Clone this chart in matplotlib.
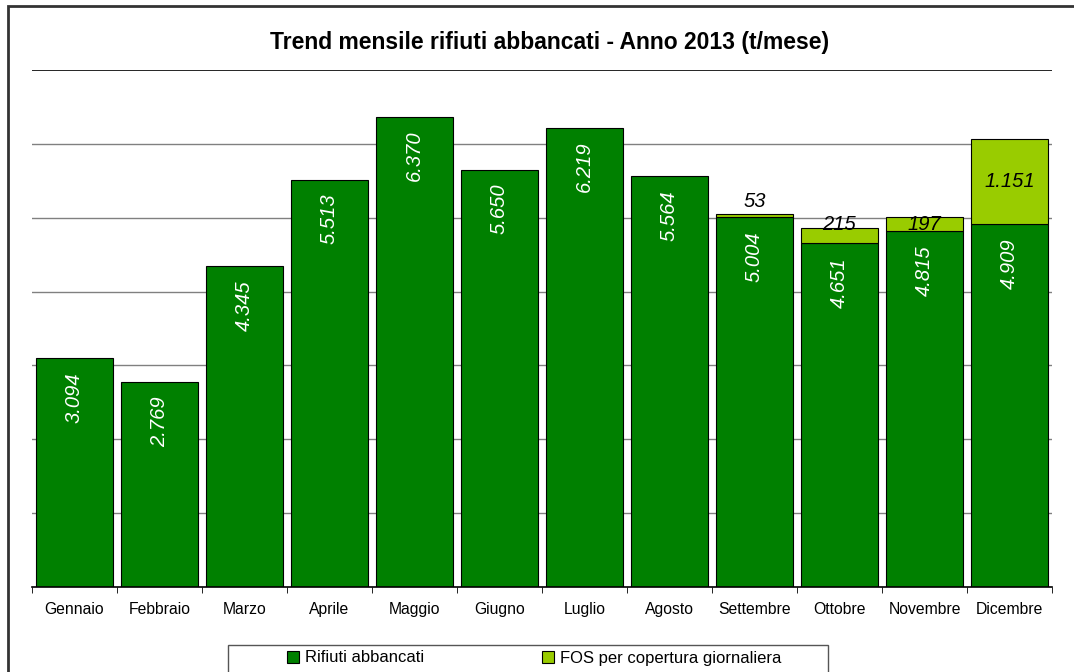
import matplotlib
matplotlib.use('Agg')
import matplotlib.pyplot as plt
from matplotlib.patches import Rectangle, Patch
import numpy as np

plt.rcParams['font.family'] = ['Liberation Sans', 'DejaVu Sans']

mesi = ['Gennaio', 'Febbraio', 'Marzo', 'Aprile', 'Maggio', 'Giugno',
        'Luglio', 'Agosto', 'Settembre', 'Ottobre', 'Novembre', 'Dicembre']
rifiuti = [3094, 2769, 4345, 5513, 6370, 5650, 6219, 5564, 5004, 4651, 4815, 4909]
fos = [0, 0, 0, 0, 0, 0, 0, 0, 53, 215, 197, 1151]
# nudge (in points) of the FOS labels
fos_nudge = [0, 0, 0, 0, 0, 0, 0, 0, 10, 8, 0, 0]

verde = '#008000'
lime = '#99CC00'

def fmt(v):
    return f'{v:,}'.replace(',', '.')

fig = plt.figure(figsize=(10.74, 6.72), dpi=100)
ax = fig.add_axes([32/1074, 1-587/672, 1020/1074, 517/672])

x = np.arange(len(mesi))
ax.bar(x, rifiuti, width=0.9, color=verde, edgecolor='black', linewidth=0.8, zorder=3)
b2 = ax.bar(x, fos, width=0.9, bottom=rifiuti, color=lime, edgecolor='black',
            linewidth=0.8, zorder=3)
# hide the empty FOS bars
for r, v in zip(b2, fos):
    if v == 0:
        r.set_visible(False)

for xi, v in zip(x, rifiuti):
    ax.annotate(fmt(v), (xi, v), xytext=(0, -10), textcoords='offset points',
                ha='center', va='top', rotation=90, color='white',
                fontsize=14.5, style='italic', zorder=4)

for xi, r, v, n in zip(x, rifiuti, fos, fos_nudge):
    if v == 0:
        continue
    ax.annotate(fmt(v), (xi, r + v/2), xytext=(0, n), textcoords='offset points',
                ha='center', va='center', color='black',
                fontsize=14.5, style='italic', zorder=4)

ax.set_xlim(-0.5, len(mesi) - 0.5)
ax.set_ylim(0, 7000)
ax.set_yticks(np.arange(1000, 7001, 1000))
ax.tick_params(axis='y', length=0, labelleft=False)
for yv in range(1000, 7000, 1000):
    ax.axhline(yv, color='#808080', linewidth=1, zorder=1)
ax.axhline(7000, color='black', linewidth=1.2, zorder=1)

ax.set_xticks(x)
ax.set_xticklabels(mesi, fontsize=11.3)
ax.tick_params(axis='x', which='major', length=0, pad=11)
ax.set_xticks(np.arange(-0.5, len(mesi)), minor=True)
ax.tick_params(axis='x', which='minor', length=4, direction='out', color='black')

for s in ['left', 'right', 'top']:
    ax.spines[s].set_visible(False)
ax.spines['bottom'].set_color('black')
ax.spines['bottom'].set_linewidth(1.2)
ax.spines['bottom'].set_zorder(5)

fig.suptitle('Trend mensile rifiuti abbancati - Anno 2013 (t/mese)',
             x=550/1074, y=1-42/672, fontsize=16.5, fontweight='bold', va='center')

handles = [Patch(facecolor=verde, edgecolor='black', linewidth=0.8, label='Rifiuti abbancati'),
           Patch(facecolor=lime, edgecolor='black', linewidth=0.8,
                 label='FOS per copertura giornaliera')]
fig.legend(handles=handles, loc='center left',
           bbox_to_anchor=(279/1074, 1-658/672), ncol=2, frameon=False,
           fontsize=12, handlelength=0.7, handleheight=0.7, handletextpad=0.35,
           columnspacing=7.1, borderpad=0)

fig.patches.append(Rectangle((228/1074, -0.1), 600/1074, 0.1 + 1 - 645/672,
                             transform=fig.transFigure, fill=False,
                             edgecolor='#555555', linewidth=1))
fig.patches.append(Rectangle((8/1074, -0.1), 1.5, 1.1 - 6/672,
                             transform=fig.transFigure, fill=False,
                             edgecolor='#333333', linewidth=2))

fig.savefig('out.png', dpi=100)
